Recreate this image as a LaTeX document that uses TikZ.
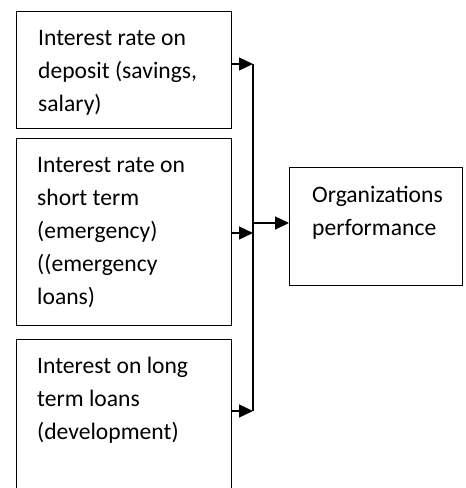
\documentclass[tikz,border=0pt]{standalone}
\usepackage{fontspec}
\setmainfont{Carlito}
\usepackage{tikz}
\usetikzlibrary{arrows.meta,positioning}

\begin{document}
\begin{tikzpicture}[x=1pt,y=-1pt,>={Triangle[length=14pt,width=13pt]},
          box/.style={draw,line width=1.3pt,anchor=north west,inner sep=0pt},
          txt/.style={anchor=north west,inner sep=0pt,align=left,
                      font=\fontsize{23.6}{33}\selectfont}]
        \useasboundingbox (0,0) rectangle (466,488);
        \clip (0,0) rectangle (466,488);
        % factor boxes
        \node[box,minimum width=215pt,minimum height=117pt] (rate1) at (16,11) {};
        \node[box,minimum width=215pt,minimum height=187pt] (rate2) at (16,138) {};
        \node[box,minimum width=215pt,minimum height=170pt] (rate3) at (16,339) {};
        \node[box,minimum width=173pt,minimum height=118pt] (perf) at (289,167) {};
        \node[txt] (t1) at (38,21.9) {\strut Interest rate on\\deposit (savings,\\salary)};
        \node[txt] (t2) at (37,148.9) {\strut Interest rate on\\short term\\(emergency)\\((emergency\\loans)};
        \node[txt] (t3) at (37,349.9) {\strut Interest on long\\term loans\\(development)};
        \node[txt] (t4) at (312,178.9) {\strut Organizations\\performance};
        % joining line
        \coordinate (j1) at (253,64);
        \coordinate (j2) at (253,233);
        \coordinate (j3) at (253,411);
        \coordinate (jout) at (253,223);
        \draw[line width=1.3pt] (j1) -- (j3);
        \draw[->,line width=1.3pt] (rate1.east |- j1) -- (j1);
        \draw[->,line width=1.3pt] (rate2.east |- j2) -- (j2);
        \draw[->,line width=1.3pt] (rate3.east |- j3) -- (j3);
        \draw[->,line width=1.3pt] (jout) -- (perf.west |- jout);
      \end{tikzpicture}
\end{document}
